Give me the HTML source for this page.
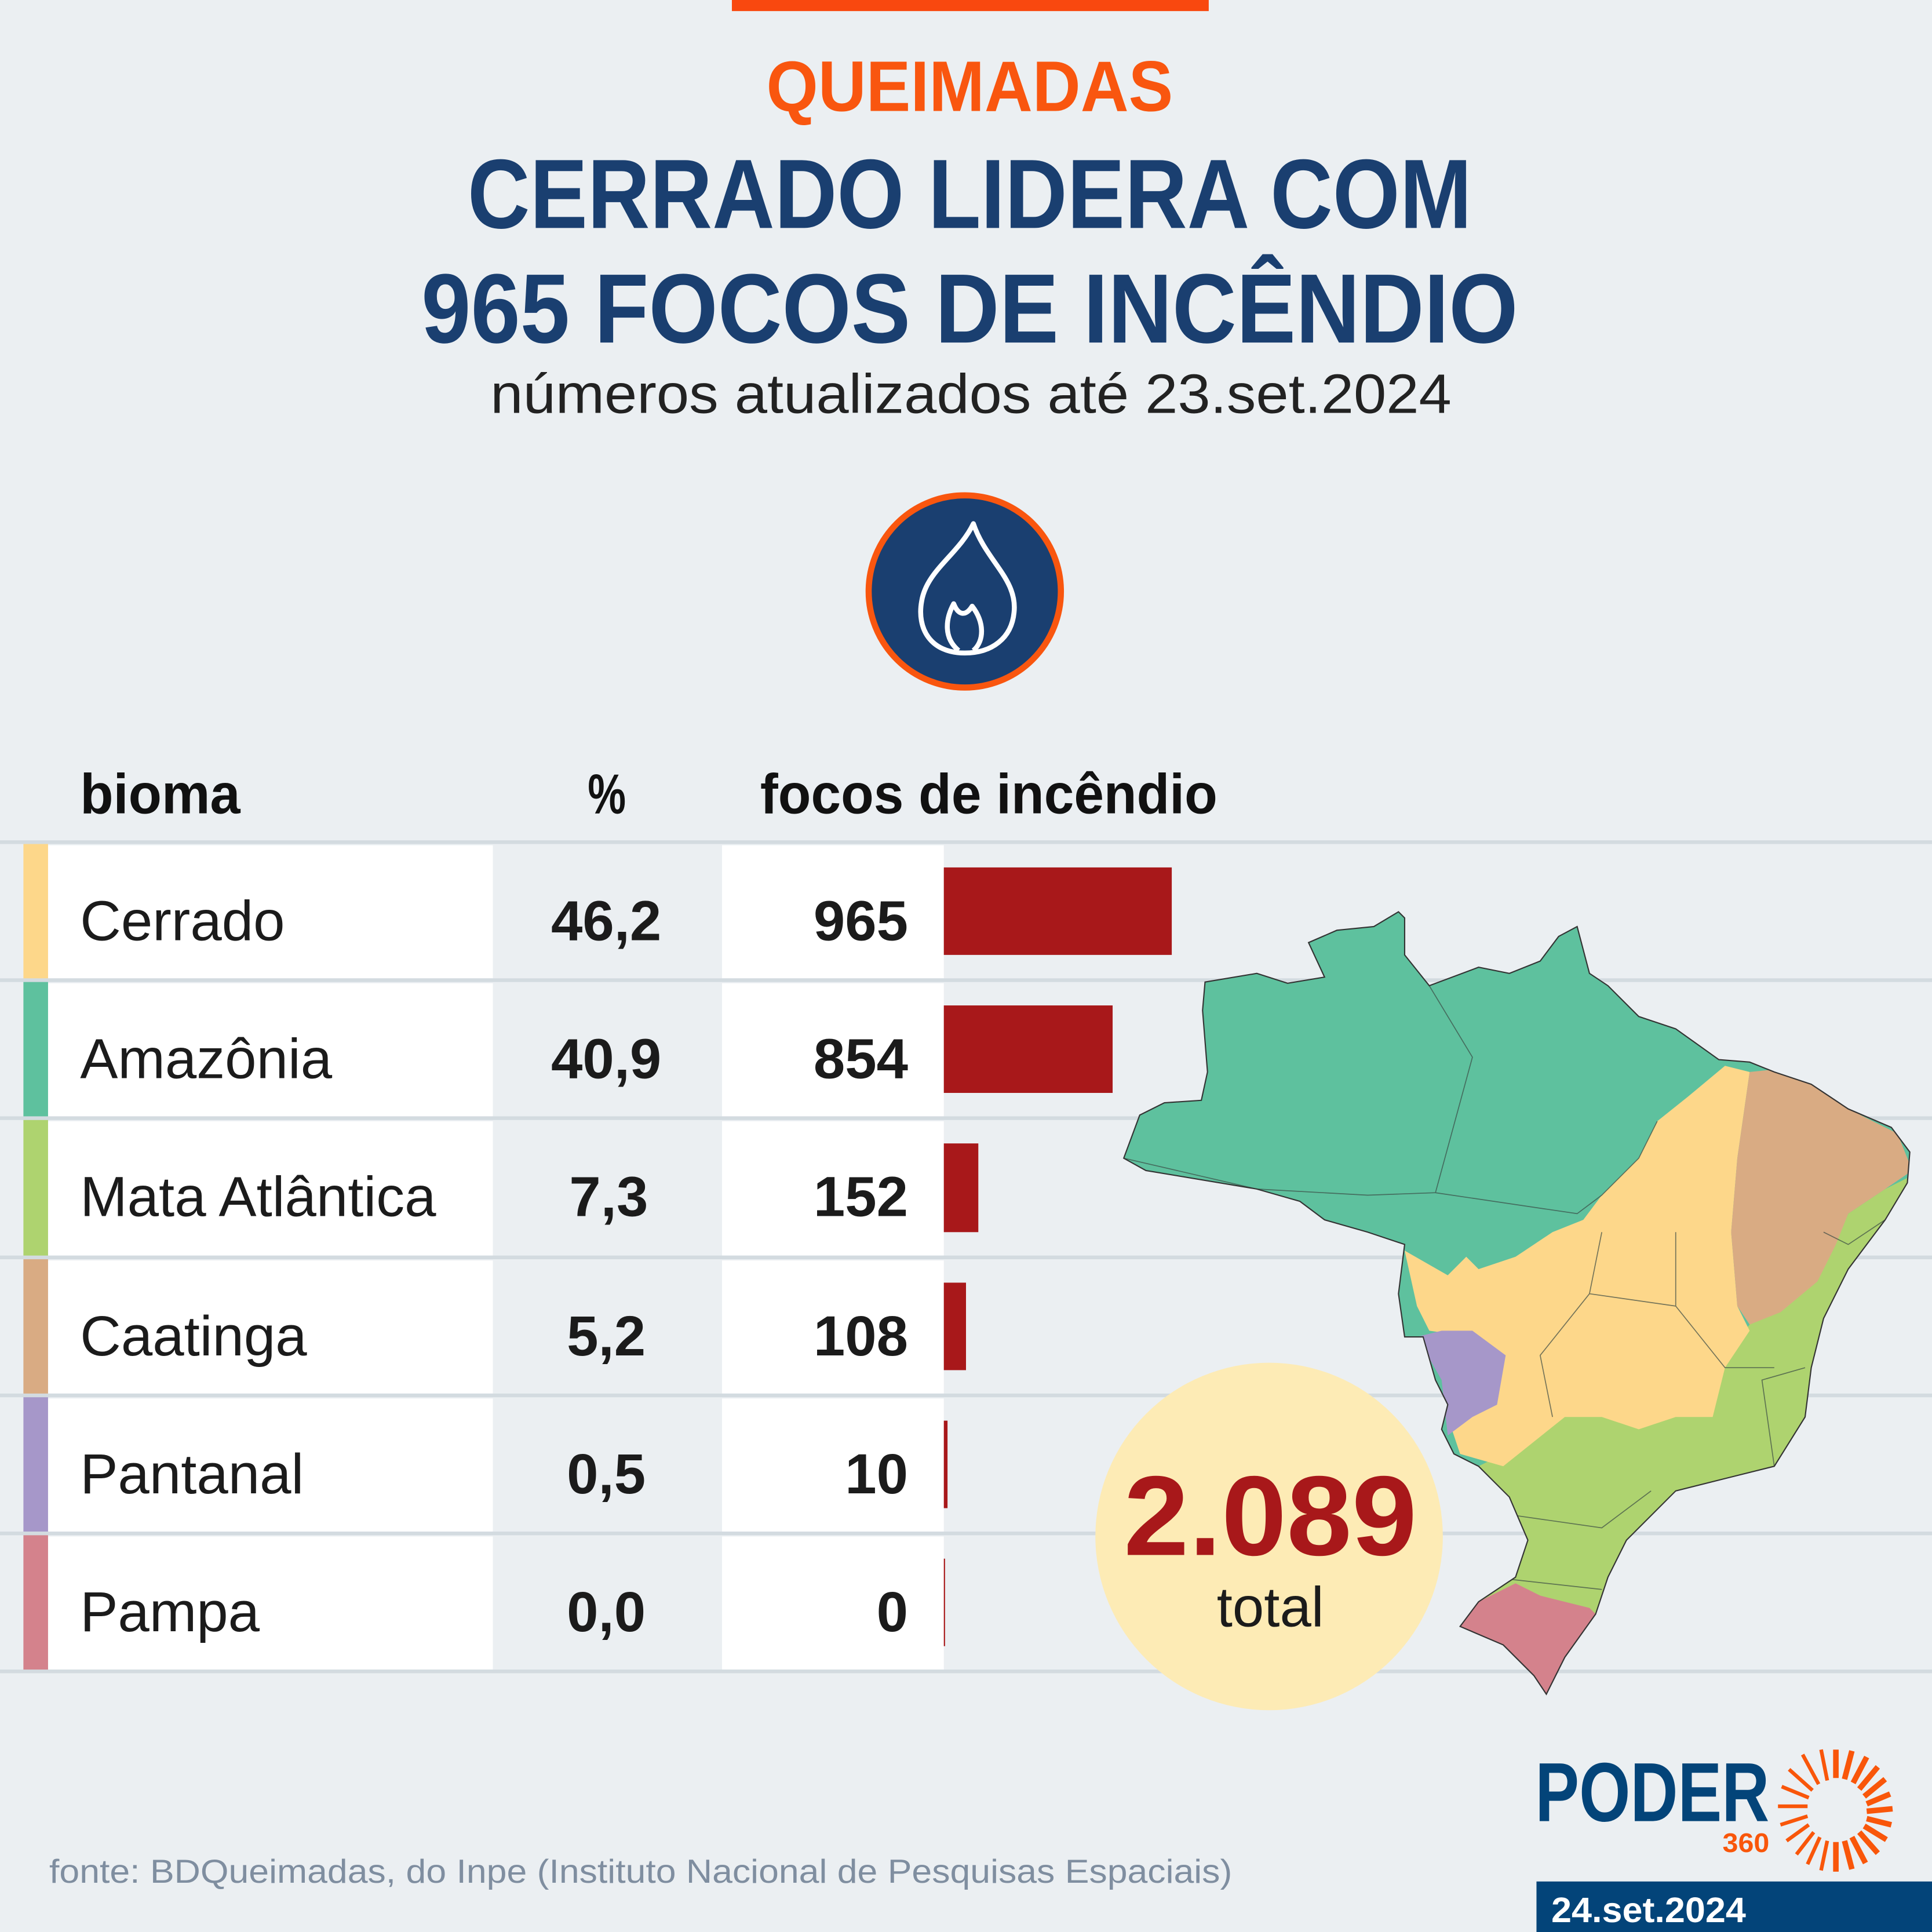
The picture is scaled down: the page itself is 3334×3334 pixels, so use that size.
<!DOCTYPE html>
<html><head><meta charset="utf-8"><style>html,body{margin:0;padding:0;background:#ebeff2}svg{display:block}</style></head><body>
<svg xmlns="http://www.w3.org/2000/svg" width="3334" height="3334" viewBox="0 0 1568 1568" font-family="Liberation Sans, sans-serif">
<rect width="1568" height="1568" fill="#ebeff2"/>
<rect x="594" y="0" width="387" height="9" fill="#f9480f"/>
<text x="787" y="90" text-anchor="middle" font-size="58" font-weight="bold" fill="#f9560f" textLength="330" lengthAdjust="spacingAndGlyphs">QUEIMADAS</text>
<text x="787" y="185" text-anchor="middle" font-size="80" font-weight="bold" fill="#1a3f70" textLength="815" lengthAdjust="spacingAndGlyphs">CERRADO LIDERA COM</text>
<text x="787" y="278" text-anchor="middle" font-size="80" font-weight="bold" fill="#1a3f70" textLength="890" lengthAdjust="spacingAndGlyphs">965 FOCOS DE INCÊNDIO</text>
<text x="788" y="335" text-anchor="middle" font-size="45" fill="#222" textLength="780" lengthAdjust="spacingAndGlyphs">números atualizados até 23.set.2024</text>
<circle cx="783" cy="480" r="78" fill="#1a3f70" stroke="#f9560f" stroke-width="5"/>
<path d="M783,530 C755,530 744,510 748,488 C752,463 778,450 790,425 C800,455 826,470 823,497 C821,518 805,530 783,530 Z" fill="none" stroke="#fff" stroke-width="4" stroke-linejoin="round"/>
<path d="M778,528 C766,518 767,503 774,490 C778,500 784,500 789,492 C799,505 799,520 790,528" fill="none" stroke="#fff" stroke-width="4" stroke-linejoin="round"/>
<g font-size="46" font-weight="bold" fill="#111">
<text x="65" y="660" textLength="130" lengthAdjust="spacingAndGlyphs">bioma</text>
<text x="477" y="660" textLength="31" lengthAdjust="spacingAndGlyphs">%</text>
<text x="617" y="660" textLength="371" lengthAdjust="spacingAndGlyphs">focos de incêndio</text>
</g>
<!-- rows -->
<g>
<rect x="39" y="686" width="361" height="108" fill="#fff"/><rect x="586" y="686" width="180" height="108" fill="#fff"/>
<rect x="39" y="798" width="361" height="108" fill="#fff"/><rect x="586" y="798" width="180" height="108" fill="#fff"/>
<rect x="39" y="910" width="361" height="109" fill="#fff"/><rect x="586" y="910" width="180" height="109" fill="#fff"/>
<rect x="39" y="1023" width="361" height="108" fill="#fff"/><rect x="586" y="1023" width="180" height="108" fill="#fff"/>
<rect x="39" y="1135" width="361" height="108" fill="#fff"/><rect x="586" y="1135" width="180" height="108" fill="#fff"/>
<rect x="39" y="1247" width="361" height="108" fill="#fff"/><rect x="586" y="1247" width="180" height="108" fill="#fff"/>
<rect x="19" y="684" width="20" height="112" fill="#fdd78a"/>
<rect x="19" y="796" width="20" height="112" fill="#5ec19e"/>
<rect x="19" y="908" width="20" height="113" fill="#aed36f"/>
<rect x="19" y="1021" width="20" height="112" fill="#d9ab83"/>
<rect x="19" y="1133" width="20" height="112" fill="#a697c9"/>
<rect x="19" y="1245" width="20" height="112" fill="#d4828c"/>
<g fill="#d3dbe0">
<rect x="0" y="682" width="1568" height="3"/><rect x="0" y="794" width="1568" height="3"/><rect x="0" y="906" width="1568" height="3"/><rect x="0" y="1019" width="1568" height="3"/><rect x="0" y="1131" width="1568" height="3"/><rect x="0" y="1243" width="1568" height="3"/><rect x="0" y="1355" width="1568" height="3"/>
</g>
<g fill="#a8181a">
<rect x="766" y="704" width="185" height="71"/><rect x="766" y="816" width="137" height="71"/><rect x="766" y="928" width="28" height="72"/><rect x="766" y="1041" width="18" height="71"/><rect x="766" y="1153" width="3" height="71"/><rect x="766" y="1265" width="1" height="71"/>
</g>
<g font-size="46" fill="#1b1b1b">
<text x="65" y="763">Cerrado</text><text x="65" y="875">Amazônia</text><text x="65" y="987">Mata Atlântica</text><text x="65" y="1100">Caatinga</text><text x="65" y="1212">Pantanal</text><text x="65" y="1324">Pampa</text>
</g>
<g font-size="46" font-weight="bold" fill="#1b1b1b" text-anchor="middle">
<text x="492" y="763">46,2</text><text x="492" y="875">40,9</text><text x="494" y="987">7,3</text><text x="492" y="1100">5,2</text><text x="492" y="1212">0,5</text><text x="492" y="1324">0,0</text>
</g>
<g font-size="46" font-weight="bold" fill="#1b1b1b" text-anchor="end">
<text x="737" y="763">965</text><text x="737" y="875">854</text><text x="737" y="987">152</text><text x="737" y="1100">108</text><text x="737" y="1212">10</text><text x="737" y="1324">0</text>
</g>
</g>
<!-- map -->
<defs><clipPath id="br"><path id="bro" d="M912,940 L925,905 L945,895 L975,893 L980,870 L976,820 L978,797 L1020,790 L1045,798 L1075,793 L1062,765 L1085,755 L1115,752 L1135,740 L1140,745 L1140,775 L1160,800 L1200,785 L1225,790 L1250,780 L1265,760 L1280,752 L1290,790 L1305,800 L1330,825 L1360,835 L1395,860 L1420,862 L1440,870 L1470,880 L1500,900 L1535,915 L1550,935 L1548,960 L1530,990 L1500,1030 L1480,1070 L1470,1110 L1465,1150 L1440,1190 L1400,1200 L1360,1210 L1320,1250 L1305,1280 L1295,1310 L1270,1345 L1255,1375 L1245,1360 L1220,1335 L1185,1320 L1200,1300 L1230,1280 L1240,1250 L1225,1215 L1200,1190 L1180,1180 L1170,1160 L1175,1140 L1165,1120 L1155,1085 L1140,1085 L1135,1050 L1140,1010 L1110,1000 L1075,990 L1055,975 L1020,965 L960,955 L930,950 Z"/></clipPath></defs>
<g clip-path="url(#br)">
<rect x="900" y="730" width="660" height="660" fill="#5ec19e"/>
<path fill="#aed36f" d="M1530,965 L1560,950 L1560,1400 L1180,1400 L1200,1190 L1220,1180 L1260,1150 L1300,1140 L1360,1140 L1390,1110 L1420,1075 L1475,1040 L1500,985 Z"/>
<path fill="#fdd78a" d="M1140,1015 L1175,1035 L1190,1020 L1200,1030 L1230,1020 L1260,1000 L1285,990 L1300,970 L1330,940 L1345,910 L1370,890 L1400,865 L1420,870 L1410,940 L1405,1000 L1410,1060 L1420,1080 L1400,1110 L1390,1150 L1360,1150 L1330,1160 L1300,1150 L1270,1150 L1245,1170 L1220,1190 L1185,1180 L1175,1150 L1200,1110 L1215,1100 L1195,1085 L1160,1080 L1150,1060 Z"/>
<path fill="#d9ab83" d="M1420,870 L1440,868 L1475,880 L1510,905 L1540,920 L1552,950 L1530,965 L1500,985 L1490,1010 L1475,1040 L1445,1065 L1420,1075 L1410,1060 L1405,1000 L1410,940 Z"/>
<path fill="#a697c9" d="M1150,1085 L1170,1080 L1195,1080 L1222,1100 L1215,1140 L1195,1150 L1175,1165 L1170,1120 Z"/>
<path fill="#d4828c" d="M1180,1320 L1200,1300 L1230,1285 L1250,1295 L1290,1305 L1300,1315 L1270,1345 L1255,1380 L1245,1360 L1220,1335 Z"/>
<g fill="none" stroke="#3a4a45" stroke-width="0.8" opacity="0.7">
<path d="M912,940 L1020,965 L1110,970 L1165,968 L1195,858 L1160,800"/>
<path d="M1165,968 L1280,985 L1300,970 L1330,940 L1345,910"/>
<path d="M1300,1000 L1290,1050 L1250,1100 L1260,1150"/>
<path d="M1360,1000 L1360,1060 L1400,1110 L1440,1110"/>
<path d="M1290,1050 L1360,1060"/>
<path d="M1230,1230 L1300,1240 L1340,1210"/>
<path d="M1210,1280 L1300,1290"/>
<path d="M1440,1190 L1430,1120 L1465,1110"/>
<path d="M1480,1000 L1500,1010 L1530,990"/>
</g>
</g>
<use href="#bro" fill="none" stroke="#333" stroke-width="1"/>
<circle cx="1030" cy="1247" r="141" fill="#fdebb5"/>
<text x="1031" y="1262" text-anchor="middle" font-size="92" font-weight="bold" fill="#a8181a" textLength="238" lengthAdjust="spacingAndGlyphs">2.089</text>
<text x="1031" y="1320" text-anchor="middle" font-size="46" fill="#1b1b1b">total</text>
<text x="40" y="1528" font-size="27" fill="#7f8ea0" textLength="960" lengthAdjust="spacingAndGlyphs">fonte: BDQueimadas, do Inpe (Instituto Nacional de Pesquisas Espaciais)</text>
<!-- logo -->
<text x="1246" y="1478" font-size="68" font-weight="bold" fill="#034479" textLength="190" lengthAdjust="spacingAndGlyphs">PODER</text>
<text x="1398" y="1503" font-size="22" font-weight="bold" fill="#f9560a" textLength="38" lengthAdjust="spacingAndGlyphs">360</text>
<g stroke="#f9560a" stroke-linecap="butt">
<g stroke-width="4.5">
<line x1="1490" y1="1443" x2="1490" y2="1420"/><line x1="1497" y1="1444" x2="1503" y2="1421"/><line x1="1504" y1="1447" x2="1515" y2="1426"/><line x1="1509" y1="1452" x2="1524" y2="1434"/><line x1="1513" y1="1458" x2="1530" y2="1444"/><line x1="1515" y1="1464" x2="1534" y2="1456"/><line x1="1515" y1="1470" x2="1536" y2="1468"/><line x1="1515" y1="1476" x2="1535" y2="1481"/><line x1="1513" y1="1482" x2="1531" y2="1493"/><line x1="1509" y1="1487" x2="1524" y2="1504"/><line x1="1503" y1="1491" x2="1514" y2="1512"/><line x1="1497" y1="1494" x2="1503" y2="1517"/><line x1="1490" y1="1495" x2="1490" y2="1519"/>
</g>
<g stroke-width="3">
<line x1="1483" y1="1494" x2="1478" y2="1518"/><line x1="1477" y1="1491" x2="1467" y2="1513"/><line x1="1472" y1="1487" x2="1458" y2="1505"/><line x1="1468" y1="1481" x2="1450" y2="1494"/><line x1="1467" y1="1474" x2="1445" y2="1481"/><line x1="1467" y1="1466" x2="1443" y2="1466"/><line x1="1468" y1="1459" x2="1446" y2="1450"/><line x1="1471" y1="1453" x2="1452" y2="1436"/><line x1="1476" y1="1448" x2="1463" y2="1424"/><line x1="1483" y1="1445" x2="1478" y2="1420"/>
</g>
</g>
<rect x="1247" y="1527" width="321" height="41" fill="#034479"/>
<text x="1259" y="1560" font-size="29" font-weight="bold" fill="#fff" textLength="158" lengthAdjust="spacingAndGlyphs">24.set.2024</text>
</svg>
</body></html>
